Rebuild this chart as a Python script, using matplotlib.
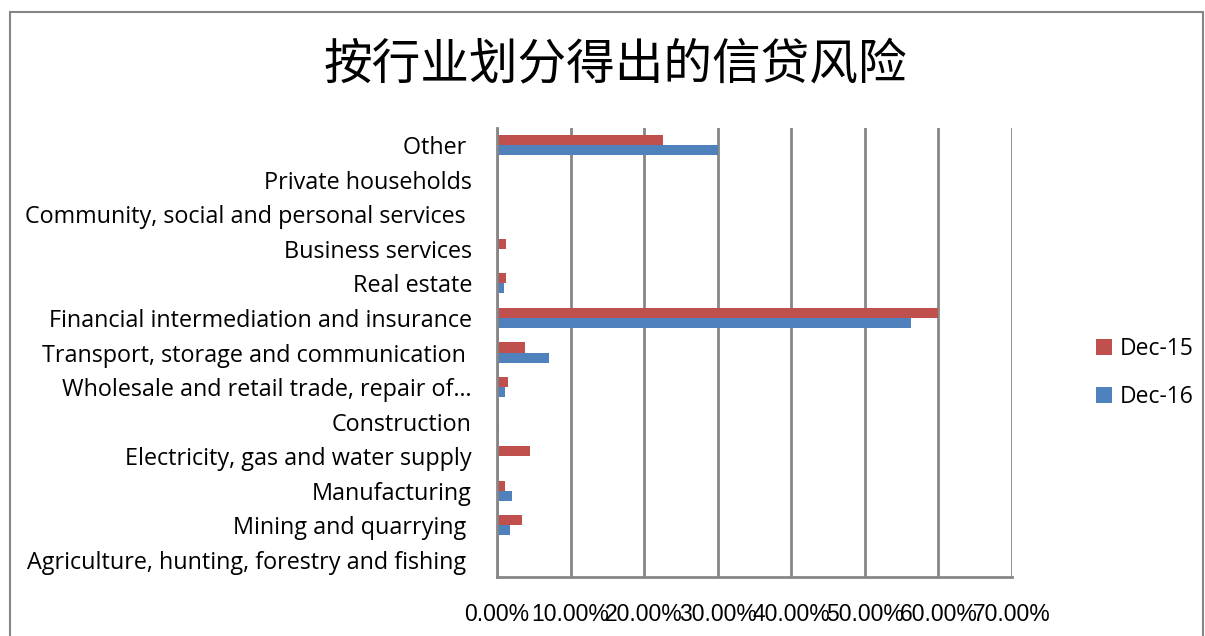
import matplotlib.pyplot as plt
from matplotlib.patches import Rectangle
import numpy as np

plt.rcParams['font.family'] = ['Open Sans', 'Noto Sans CJK SC', 'DejaVu Sans']

# categories from bottom to top
categories = [
    "Agriculture, hunting, forestry and fishing ",
    "Mining and quarrying ",
    "Manufacturing",
    "Electricity, gas and water supply",
    "Construction",
    "Wholesale and retail trade, repair of\u2026",
    "Transport, storage and communication ",
    "Financial intermediation and insurance",
    "Real estate",
    "Business services",
    "Community, social and personal services ",
    "Private households",
    "Other ",
]
dec15 = [0.0, 3.4, 1.1, 4.5, 0.1, 1.45, 3.85, 59.9, 1.2, 1.2, 0.0, 0.0, 22.6]
dec16 = [0.0, 1.75, 2.0, 0.0, 0.27, 1.1, 7.1, 56.3, 0.95, 0.0, 0.0, 0.0, 30.0]
xticks = [0, 10, 20, 30, 40, 50, 60, 70]

red = '#C0504D'
blue = '#4F81BD'
grid = '#868686'

fig = plt.figure(figsize=(12.05, 6.36), dpi=100)
ax = fig.add_axes([0.4124, 0.0928, 0.4274, 0.7059])

y = np.arange(len(categories))
h = 0.29
ax.barh(y + h / 2, dec15, height=h, color=red, label='Dec-15')
ax.barh(y - h / 2, dec16, height=h, color=blue, label='Dec-16')

ax.set_xlim(0, 70)
ax.set_ylim(-0.5, len(categories) - 0.5)
ax.set_xticks(xticks)
ax.set_xticklabels(['%.2f%%' % v for v in xticks], fontsize=16.5,
                   family=['Liberation Sans', 'DejaVu Sans'])
ax.set_yticks(y)
ax.set_yticklabels(categories, fontsize=16.8)
ax.tick_params(axis='x', length=0, pad=19)
ax.tick_params(axis='y', length=0, pad=18)

ax.set_axisbelow(True)
ax.grid(axis='x', color=grid, linewidth=2)
for s in ['top', 'right']:
    ax.spines[s].set_visible(False)
for s in ['left', 'bottom']:
    ax.spines[s].set_color(grid)
    ax.spines[s].set_linewidth(2)

fig.text(0.511, 0.899, '按行业划分得出的信贷风险', ha='center', va='center',
         fontsize=35, family=['Noto Sans CJK SC'])

ax.legend(loc='center left', bbox_to_anchor=(1.123, 0.454), frameon=False,
          fontsize=16.5, handlelength=0.7, handleheight=0.7, labelspacing=1.05,
          handletextpad=0.35)

fig.patches.append(Rectangle((0.0083, -0.05), 0.99, 1.031, transform=fig.transFigure,
                             fill=False, edgecolor=grid, linewidth=1.5))

fig.savefig('out.png', dpi=100)
